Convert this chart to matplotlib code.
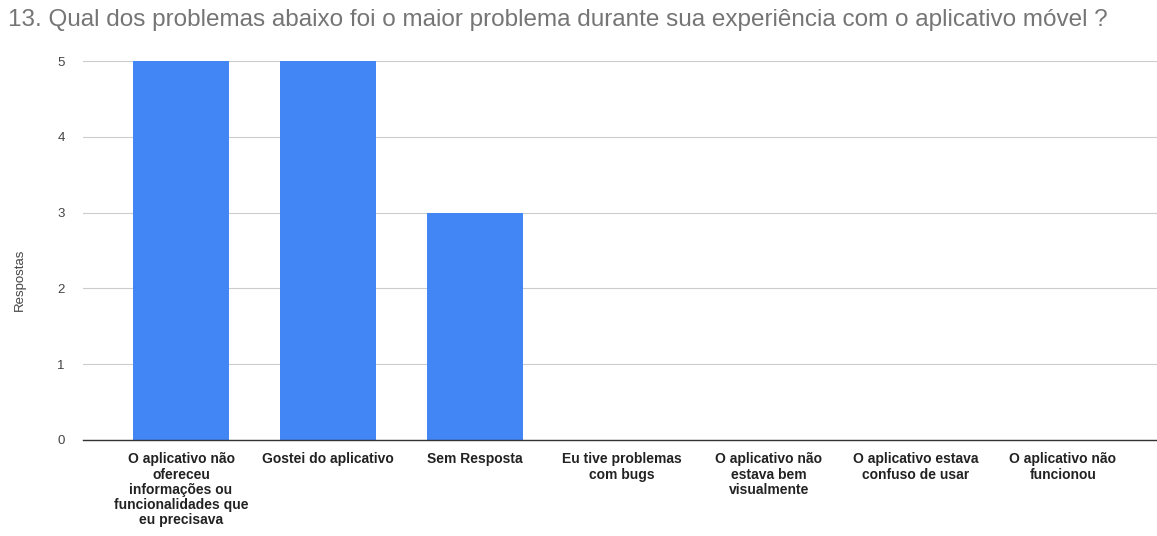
import matplotlib
matplotlib.use('Agg')
import matplotlib.pyplot as plt

categories = [
    'O aplicativo não\nofereceu\ninformações ou\nfuncionalidades que\neu precisava',
    'Gostei do aplicativo',
    'Sem Resposta',
    'Eu tive problemas\ncom bugs',
    'O aplicativo não\nestava bem\nvisualmente',
    'O aplicativo estava\nconfuso de usar',
    'O aplicativo não\nfuncionou',
]
respostas = [5, 5, 3, 0, 0, 0, 0]
yticks = [0, 1, 2, 3, 4, 5]

plt.rcParams['font.family'] = ['Liberation Sans', 'DejaVu Sans']

W, H = 1157, 536
fig = plt.figure(figsize=(W / 100, H / 100), dpi=100)
# axes box in pixels: left 83, right 1157, top 61 (y=5), bottom 440 (y=0)
ax = fig.add_axes([83 / W, 1 - 440 / H, (1157 - 83) / W, (440 - 61) / H])

x = list(range(len(categories)))
ax.bar(x, respostas, width=0.65, color='#4285f4', zorder=3)

ax.set_xlim(-0.667, 6.64)
ax.set_ylim(0, 5)
ax.set_yticks(yticks)
ax.set_yticklabels([str(v) for v in yticks], fontsize=9.5, color='#444444')
ax.set_xticks(x)
ax.set_xticklabels(categories, fontsize=10, fontweight='bold', color='#222222',
                   linespacing=1.1, va='top')
ax.tick_params(axis='both', length=0)
ax.tick_params(axis='y', pad=13)
ax.tick_params(axis='x', pad=9)

ax.grid(True, axis='y', color='#cccccc', linewidth=0.8, zorder=0)
for s in ['top', 'right', 'left']:
    ax.spines[s].set_visible(False)
ax.spines['bottom'].set_color('#333333')
ax.spines['bottom'].set_linewidth(1.0)
ax.spines['bottom'].set_zorder(4)

fig.text(20 / W, 1 - 280 / H, 'Respostas', fontsize=9.5, color='#444444',
         rotation=90, ha='center', va='center')

fig.text(8 / W, 1 - 20 / H, '13. Qual dos problemas abaixo foi o maior problema durante sua experiência com o aplicativo móvel ?',
         fontsize=17.5, color='#757575', va='center', ha='left')

plt.savefig('out.png', dpi=100)
